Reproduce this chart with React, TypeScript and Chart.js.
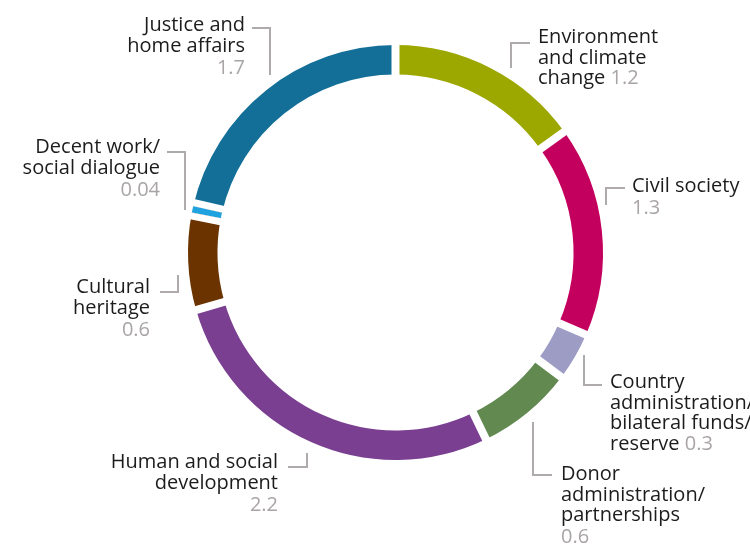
import React, { useEffect, useRef } from "react";
import { Chart, registerables } from "chart.js";

Chart.register(...registerables);

// ---- data ----
const categories = [
  "Environment and climate change",
  "Civil society",
  "Country administration/bilateral funds/reserve",
  "Donor administration/partnerships",
  "Human and social development",
  "Cultural heritage",
  "Decent work/social dialogue",
  "Justice and home affairs",
];
const values = [1.2, 1.3, 0.3, 0.6, 2.2, 0.6, 0.04, 1.7];
const valueLabels = ["1.2", "1.3", "0.3", "0.6", "2.2", "0.6", "0.04", "1.7"];
const labelLines = [
  ["Environment", "and climate", "change"],
  ["Civil society"],
  ["Country", "administration/", "bilateral funds/", "reserve"],
  ["Donor", "administration/", "partnerships"],
  ["Human and social", "development"],
  ["Cultural", "heritage"],
  ["Decent work/", "social dialogue"],
  ["Justice and", "home affairs"],
];
const sliceColors = [
  "#9ca700",
  "#c4005f",
  "#9c9cc5",
  "#628a50",
  "#7a3f91",
  "#6a3300",
  "#1ea2e0",
  "#136f98",
];

// ---- annotation layout (offsets from the doughnut centre) ----
type Ann = {
  align: "left" | "right";
  tx: number;
  ty: number;
  inline: boolean;
  leader: number[][];
};
const annotations: Ann[] = [
  { align: "left", tx: 142.5, ty: -209.5, inline: true, leader: [[134.5, -209.5], [115.5, -209.5], [115.5, -184.5]] },
  { align: "left", tx: 236.5, ty: -60.5, inline: false, leader: [[229.5, -64.5], [210.5, -64.5], [210.5, -47.5]] },
  { align: "left", tx: 214.5, ty: 135.5, inline: true, leader: [[188.5, 102.5], [188.5, 132.5], [206.5, 132.5]] },
  { align: "left", tx: 165.5, ty: 227.5, inline: false, leader: [[137.5, 169.5], [137.5, 222.5], [156.5, 222.5]] },
  { align: "right", tx: -117.5, ty: 215.5, inline: false, leader: [[-107.5, 214.5], [-88.5, 214.5], [-88.5, 200.5]] },
  { align: "right", tx: -245.5, ty: 40.5, inline: false, leader: [[-235.5, 39.5], [-217.5, 39.5], [-217.5, 22.5]] },
  { align: "right", tx: -235.5, ty: -99.5, inline: false, leader: [[-228.5, -100.5], [-210.5, -100.5], [-210.5, -42.5]] },
  { align: "right", tx: -150.5, ty: -221.5, inline: false, leader: [[-143.5, -224.5], [-125.5, -224.5], [-125.5, -177.5]] },
];

const FONT_FAMILY = '"Open Sans", "Noto Sans", sans-serif';
const FONT_SIZE = 20;
const LINE_H = 20.5;
const TEXT_COLOR = "#1c1c1c";
const VALUE_COLOR = "#aaa5a5";
const LEADER_COLOR = "#b0abab";
const GAP = 8;

const gapPlugin = {
  id: "sliceGaps",
  afterDatasetsDraw(chart: any) {
    const meta = chart.getDatasetMeta(0);
    const arcs = meta.data;
    const n = arcs.length;
    const ctx = chart.ctx as CanvasRenderingContext2D;
    const props = ["x", "y", "startAngle", "endAngle", "innerRadius", "outerRadius"];
    ctx.save();
    ctx.fillStyle = "#ffffff";
    for (let i = 0; i < n; i++) {
      const a = arcs[i].getProps(props, true);
      const p = arcs[(i - 1 + n) % n].getProps(props, true);
      const mid = (a.innerRadius + a.outerRadius) / 2;
      const lenA = (a.endAngle - a.startAngle) * mid;
      const lenP = (p.endAngle - p.startAngle) * mid;
      let lo = -GAP / 2;
      let hi = GAP / 2;
      if (lenA < 2.5 * GAP) {
        lo = -GAP + 1;
        hi = 0;
      } else if (lenP < 2.5 * GAP) {
        lo = 0;
        hi = GAP - 1;
      }
      const th = a.startAngle;
      const ux = Math.cos(th);
      const uy = Math.sin(th);
      const nx = -uy;
      const ny = ux;
      const r1 = a.innerRadius - 3;
      const r2 = a.outerRadius + 3;
      ctx.beginPath();
      ctx.moveTo(a.x + ux * r1 + nx * lo, a.y + uy * r1 + ny * lo);
      ctx.lineTo(a.x + ux * r2 + nx * lo, a.y + uy * r2 + ny * lo);
      ctx.lineTo(a.x + ux * r2 + nx * hi, a.y + uy * r2 + ny * hi);
      ctx.lineTo(a.x + ux * r1 + nx * hi, a.y + uy * r1 + ny * hi);
      ctx.closePath();
      ctx.fill();
    }
    ctx.restore();
  },
};

const labelPlugin = {
  id: "sliceLabels",
  afterDraw(chart: any) {
    const meta = chart.getDatasetMeta(0);
    const arc0 = meta.data[0];
    if (!arc0) return;
    const cx = arc0.x;
    const cy = arc0.y;
    const ctx = chart.ctx as CanvasRenderingContext2D;
    ctx.save();
    ctx.font = `${FONT_SIZE}px ${FONT_FAMILY}`;
    ctx.textBaseline = "alphabetic";
    annotations.forEach((ann, i) => {
      // leader line
      ctx.strokeStyle = LEADER_COLOR;
      ctx.lineWidth = 2;
      ctx.lineJoin = "miter";
      ctx.lineCap = "butt";
      ctx.beginPath();
      ann.leader.forEach((pt, k) => {
        const x = cx + pt[0];
        const y = cy + pt[1];
        if (k === 0) ctx.moveTo(x, y);
        else ctx.lineTo(x, y);
      });
      ctx.stroke();

      const lines = labelLines[i];
      const x = cx + ann.tx;
      const y = cy + ann.ty;
      ctx.textAlign = ann.align;
      ctx.fillStyle = TEXT_COLOR;
      lines.forEach((ln, k) => {
        ctx.fillText(ln, x, y + k * LINE_H);
      });
      const lastY = y + (lines.length - 1) * LINE_H;
      ctx.fillStyle = VALUE_COLOR;
      if (ann.inline) {
        const w = ctx.measureText(lines[lines.length - 1] + " ").width;
        ctx.textAlign = "left";
        ctx.fillText(valueLabels[i], x + w, lastY);
      } else {
        ctx.fillText(valueLabels[i], x, lastY + LINE_H + 1.5);
      }
    });
    ctx.restore();
  },
};

export default function App() {
  const canvasRef = useRef<HTMLCanvasElement | null>(null);

  useEffect(() => {
    const canvas = canvasRef.current;
    if (!canvas) return;
    const chart = new Chart(canvas, {
      type: "doughnut",
      data: {
        labels: categories,
        datasets: [
          {
            data: values,
            backgroundColor: sliceColors,
            borderWidth: 0,
            hoverOffset: 0,
            offset: 0,
          },
        ],
      },
      options: {
        responsive: false,
        animation: false,
        devicePixelRatio: 1,
        events: [],
        cutout: "85.8%",
        rotation: 0,
        layout: { padding: { left: 188, right: 147, top: 45, bottom: 86 } },
        plugins: {
          legend: { display: false },
          tooltip: { enabled: false },
        },
      },
      plugins: [gapPlugin, labelPlugin],
    } as any);
    return () => chart.destroy();
  }, []);

  return (
    <div style={{ position: "absolute", left: 0, top: 0, width: 750, height: 546, background: "#fff" }}>
      <canvas ref={canvasRef} width={750} height={546} style={{ width: 750, height: 546, display: "block" }} />
    </div>
  );
}
